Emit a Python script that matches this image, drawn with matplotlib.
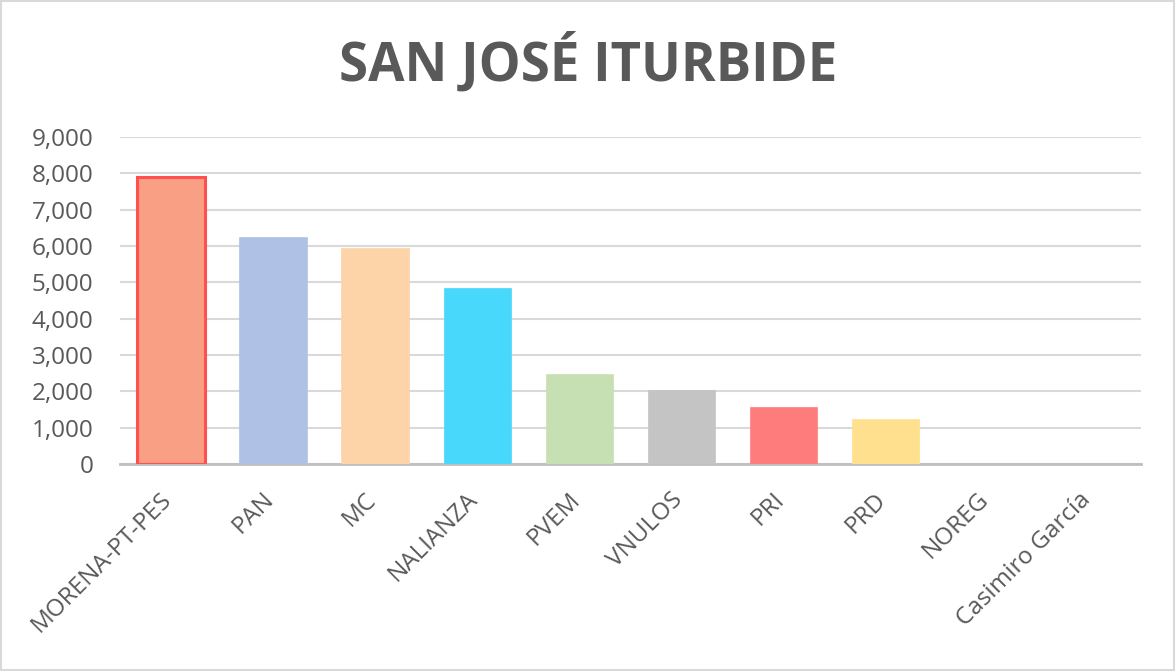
import matplotlib
matplotlib.use("Agg")
import matplotlib.pyplot as plt
import matplotlib.transforms as mtransforms
from matplotlib.patches import Rectangle
from matplotlib.ticker import FuncFormatter

# values
parties = ["MORENA-PT-PES", "PAN", "MC", "NALIANZA", "PVEM", "VNULOS",
           "PRI", "PRD", "NOREG", "Casimiro García"]
votes = [7900, 6250, 5950, 4850, 2490, 2045, 1580, 1240, 12, 3]
colors = ["#F9A084", "#AFC2E5", "#FCD4A8", "#48D8FC", "#C7E0B3", "#C4C4C4",
          "#FF7C7C", "#FFE08F", "#BDD7EE", "#DDDDDD"]
edges = ["#FF4F4F"] + colors[1:]

TXT = "#595959"
plt.rcParams["font.family"] = ["Open Sans", "DejaVu Sans"]

fig = plt.figure(figsize=(11.76, 6.71), dpi=100)
ax = fig.add_axes([0.102, 0.3085, 0.868, 0.4873])

x = range(len(parties))
ax.bar(x, votes, width=0.66, color=colors, edgecolor=edges,
       linewidth=[2.2] + [0.5] * (len(parties) - 1), zorder=3)

ax.set_xlim(-0.5, len(parties) - 0.5)
ax.set_ylim(0, 9000)
ax.set_yticks(range(0, 9001, 1000))
ax.yaxis.set_major_formatter(FuncFormatter(lambda v, p: f"{int(v):,}"))
ax.grid(axis="y", color="#D9D9D9", linewidth=1.5, zorder=0)
ax.set_axisbelow(True)

for s in ["top", "right", "left"]:
    ax.spines[s].set_visible(False)
ax.spines["bottom"].set_color("#BFBFBF")
ax.spines["bottom"].set_linewidth(2)

ax.tick_params(axis="both", length=0, colors=TXT, labelsize=17.5)
ax.tick_params(axis="y", pad=19)
ax.set_xticks(list(x))
ax.set_xticklabels(parties, rotation=45, ha="right", va="top", rotation_mode="anchor")
ax.tick_params(axis="x", pad=17)
shift = mtransforms.ScaledTranslation(-11 / 100, 0, fig.dpi_scale_trans)
for lbl in ax.get_xticklabels():
    lbl.set_transform(lbl.get_transform() + shift)

fig.text(0.5, 0.905, "SAN JOSÉ ITURBIDE", ha="center", va="center",
         fontsize=38, fontweight="bold", color=TXT)

fig.patches.append(Rectangle((0.001, 0.001), 0.997, 0.997, transform=fig.transFigure,
                             fill=False, edgecolor="#D9D9D9", linewidth=1.5))

fig.savefig("out.png", dpi=100)
